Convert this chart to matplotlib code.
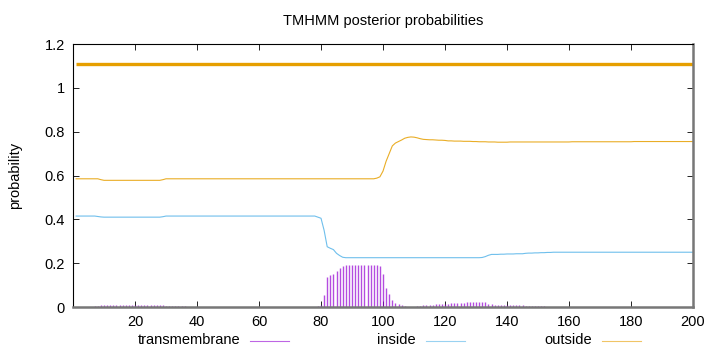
import numpy as np
import matplotlib
matplotlib.use('Agg')
import matplotlib.pyplot as plt
from matplotlib.lines import Line2D

plt.rcParams['font.family'] = ['Liberation Sans', 'DejaVu Sans']

# posterior probabilities per residue (1..200)
residues = np.arange(1, 201)

transmembrane = ([0.0]*6 + [0.003, 0.006, 0.008] + [0.01]*18 + [0.009, 0.008, 0.006]
                 + [0.004]*6 + [0.002] + [0.0]*40
                 + [0.002, 0.005, 0.01, 0.055, 0.137, 0.146, 0.15, 0.164, 0.176, 0.186]
                 + [0.19]*11
                 + [0.185, 0.15, 0.088, 0.058, 0.032, 0.02, 0.012, 0.008, 0.003, 0.001, 0.001, 0.001]
                 + [0.004, 0.005, 0.007, 0.009, 0.01, 0.011, 0.012, 0.012, 0.013, 0.015,
                    0.016, 0.017, 0.018, 0.019, 0.019, 0.02, 0.021, 0.022, 0.023, 0.024,
                    0.025, 0.024, 0.022, 0.016, 0.012, 0.01]
                 + [0.009, 0.009, 0.009, 0.008, 0.008, 0.008, 0.007, 0.007, 0.007, 0.006, 0.006, 0.006]
                 + [0.004, 0.004, 0.003, 0.003, 0.002]
                 + [0.0]*47)

inside = ([0.415]*7 + [0.413, 0.411] + [0.41]*19 + [0.412] + [0.415]*49
          + [0.41, 0.405, 0.35, 0.275, 0.268, 0.262, 0.245, 0.235, 0.227]
          + [0.225]*44
          + [0.226, 0.23, 0.236, 0.24]
          + [0.24, 0.24, 0.241, 0.241, 0.242, 0.242, 0.242, 0.243, 0.243, 0.243]
          + [0.245, 0.246, 0.246, 0.247, 0.247, 0.248, 0.248, 0.249, 0.249, 0.25]
          + [0.25]*45)

outside = ([0.585]*8 + [0.581] + [0.578]*19 + [0.581] + [0.585]*68
           + [0.588, 0.594, 0.62, 0.665, 0.7, 0.735, 0.748, 0.755, 0.762, 0.77,
              0.774, 0.776, 0.775, 0.772, 0.768, 0.765]
           + [0.764, 0.763, 0.763, 0.762, 0.761, 0.761, 0.76]
           + [0.758, 0.758, 0.757, 0.757, 0.757, 0.756, 0.756, 0.756, 0.755, 0.755]
           + [0.754, 0.754, 0.754, 0.753, 0.753, 0.753, 0.752, 0.752, 0.752, 0.752]
           + [0.753]*20 + [0.754]*20 + [0.755]*20)

# predicted topology line drawn above the curves
topology = [(1, 200, 'outside')]
topology_level = 1.11

c_tm = '#9400d3'
c_in = '#56b4e9'
c_out = '#e69f00'
colors = {'transmembrane': c_tm, 'inside': c_in, 'outside': c_out}

fig = plt.figure(figsize=(7.2, 3.52), dpi=100)
ax = fig.add_axes([0.1014, 0.1278, 0.8611, 0.7472])

ax.vlines(residues, 0, transmembrane, color=c_tm, lw=1.0, alpha=0.7)
ax.plot(residues, inside, color=c_in, lw=0.8, alpha=0.85)
ax.plot(residues, outside, color=c_out, lw=0.8, alpha=0.85)
for start, end, kind in topology:
    ax.plot([start, end], [topology_level, topology_level], color=colors[kind], lw=2.4,
            solid_capstyle='butt')

ax.set_xlim(0, 200)
ax.set_ylim(0, 1.2)
ax.set_xticks(range(20, 201, 20))
ax.set_yticks([0, 0.2, 0.4, 0.6, 0.8, 1.0, 1.2])
ax.set_yticklabels(['0', '0.2', '0.4', '0.6', '0.8', '1', '1.2'])
ax.tick_params(direction='in', top=True, right=True, length=4, width=0.6,
               labelsize=10.5, pad=6, colors='black')
for s in ['top', 'left']:
    ax.spines[s].set_linewidth(0.8)
    ax.spines[s].set_color('black')
for s in ['bottom', 'right']:
    ax.spines[s].set_linewidth(1.8)
    ax.spines[s].set_color('#777777')

ax.set_ylabel('probability', fontsize=10.5, labelpad=16)
fig.text(0.532, 1 - 21 / 352, 'TMHMM posterior probabilities', ha='center', va='center',
         fontsize=10.5)

# key below the plot
key = [('transmembrane', c_tm, 240), ('inside', c_in, 416), ('outside', c_out, 592)]
ky = 1 - 340.5 / 352
for label, col, xpx in key:
    xr = xpx / 720
    fig.text(xr, ky, label, ha='right', va='center', fontsize=10.5)
    fig.add_artist(Line2D([xr + 10 / 720, xr + 49 / 720], [ky, ky], color=col, lw=0.8,
                          alpha=0.6, transform=fig.transFigure))

fig.savefig('out.png', dpi=100)
